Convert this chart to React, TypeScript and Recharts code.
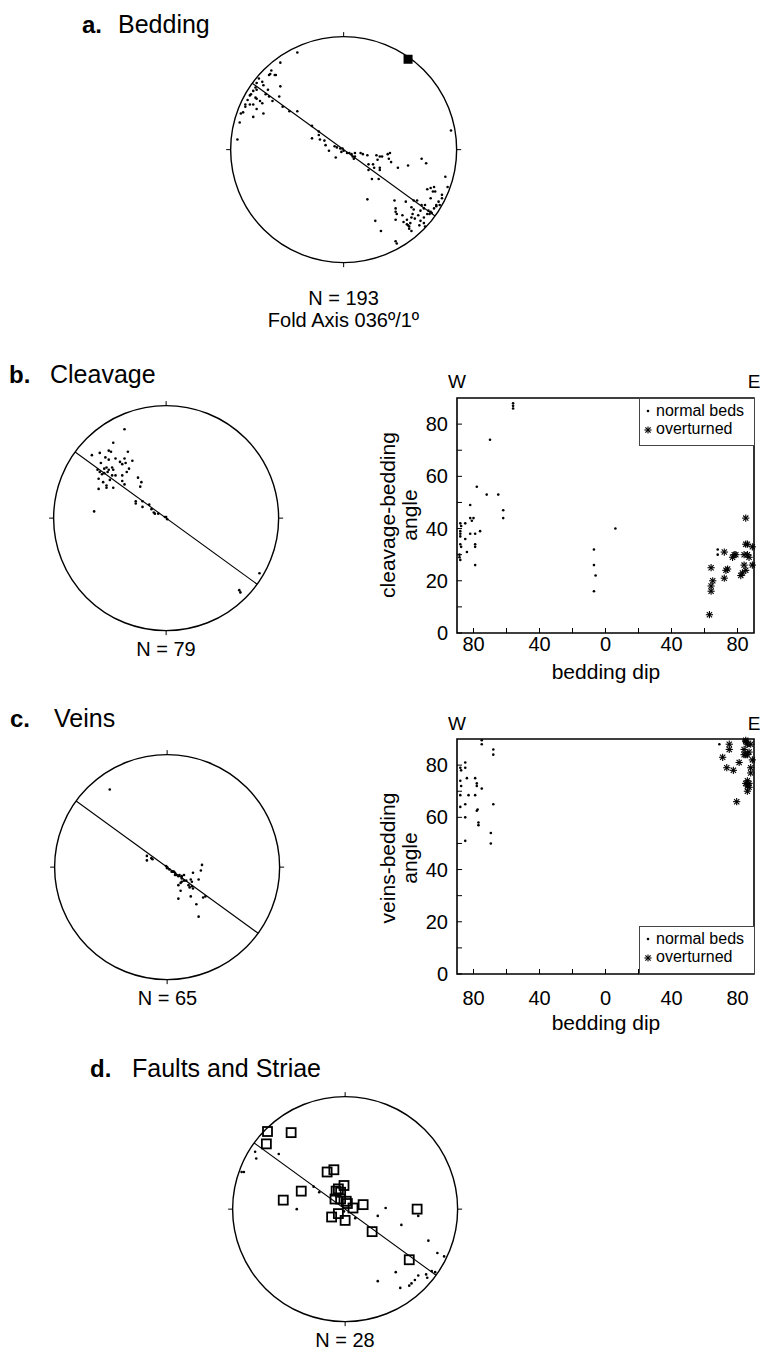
import React from 'react';
import {ScatterChart, Scatter, XAxis, YAxis, ReferenceDot, ReferenceLine, ReferenceArea} from 'recharts';

const FONT = '"Liberation Sans", Arial, Helvetica, sans-serif';

// stereonet points are [east, north] in % of the net radius
const beddingPoles = [
    [-41, 86], [-56, 77], [-64, 70], [-61, 66], [-66, 66], [-65, 67], [-60, 66], [-75, 63], [-72, 60], [-71, 57],
    [-77, 59], [-56, 56], [-78, 55], [-80, 52], [-82, 49], [-83, 48], [-77, 53], [-67, 53], [-69, 49], [-66, 47],
    [-63, 43], [-57, 47], [-85, 44], [-77, 45], [-74, 43], [-72, 41], [-80, 40], [-78, 46], [-87, 40], [-87, 38],
    [-83, 40], [-89, 33], [-91, 32], [-77, 36], [-71, 32], [-80, 29], [-92, 24], [-94, 9], [-54, 38], [-48, 34],
    [-41, 34], [-28, 21], [-22, 16], [-22, 13], [-28, 10], [-21, 9], [-17, 8], [-16, 4], [-13, -1], [-8, 3],
    [-6, 2], [-3, 1], [-1, 1], [0, -1], [-2, -2], [-7, -7], [3, -3], [5, -3], [7, -4], [10, -3],
    [8, -6], [10, -6], [9, -8], [15, -3], [17, -4], [21, -5], [22, -13], [26, -13], [27, -16], [29, -5],
    [30, -9], [32, -6], [34, -6], [39, -4], [41, -3], [40, -8], [42, -11], [32, -16], [32, -18], [22, -18],
    [25, -26], [31, -26], [48, -16], [57, -14], [69, -8], [73, -12], [95, 17], [90, -24], [74, -35], [77, -34],
    [80, -33], [79, -37], [92, -33], [87, -40], [81, -37], [77, -43], [84, -46], [82, -49], [87, -43], [80, -52],
    [82, -50], [85, -49], [62, -45], [65, -45], [69, -49], [72, -49], [60, -51], [62, -53], [68, -54], [71, -52],
    [75, -54], [77, -55], [76, -57], [78, -56], [45, -45], [55, -46], [46, -52], [46, -55], [47, -57], [52, -58],
    [61, -57], [66, -58], [71, -60], [74, -57], [60, -60], [63, -61], [56, -62], [53, -64], [46, -62], [68, -63],
    [71, -65], [72, -68], [67, -67], [59, -65], [58, -68], [57, -67], [60, -72], [58, -70], [21, -44], [28, -63],
    [33, -72], [46, -81], [47, -83], [56, -66],
];
const foldAxis = [[57, 80]];
const foldAxisTrend = 36;

const cleavagePoles = [
    [-37, 79], [-47, 67], [-66, 56], [-59, 58], [-51, 60], [-49, 59], [-34, 59], [-54, 54], [-51, 52], [-45, 53],
    [-41, 50], [-39, 48], [-37, 53], [-30, 51], [-58, 49], [-55, 44], [-53, 45], [-51, 43], [-48, 45], [-47, 43],
    [-52, 41], [-59, 41], [-61, 43], [-57, 39], [-55, 40], [-48, 38], [-45, 38], [-39, 38], [-35, 41], [-33, 44],
    [-36, 49], [-60, 35], [-56, 32], [-53, 29], [-50, 34], [-39, 33], [-37, 30], [-60, 26], [-53, 27], [-47, 27],
    [-25, 36], [-22, 32], [-23, 28], [-64, 6], [-27, 13], [-27, 15], [-21, 15], [-15, 12], [-21, 10], [-13, 8],
    [-11, 5], [-10, 4], [-7, 4], [-1, 1], [1, -1], [0, 1], [65, -64], [66, -66], [83, -49],
];

const veinPoles = [
    [-51, 69], [-18, 10], [-18, 6], [-14, 8], [-13, 7], [-1, 1], [0, 0], [0, -1], [2, -2], [4, -4],
    [5, -4], [7, -5], [8, -7], [10, -8], [11, -7], [13, -8], [13, -10], [12, -14], [10, -16], [13, -13],
    [15, -12], [17, -12], [19, -16], [21, -11], [22, -13], [23, -5], [28, -11], [30, -3], [31, 2], [20, -18],
    [22, -17], [23, -19], [12, -21], [21, -26], [10, -28], [26, -33], [28, -44], [34, -26], [32, -27], [15, -7],
    [6, -4], [7, -7],
];

const faultPoles = [
    [-69, 69], [-48, 68], [-70, 58], [-16, 33], [-10, 35], [-1, 21], [-6, 18], [-4, 15], [-8, 16], [-39, 16],
    [-55, 8], [-9, 9], [-4, 9], [1, 7], [2, 5], [7, 1], [16, 4], [64, 0], [-12, -7], [-6, -4],
    [0, -10], [24, -20], [57, -45],
];
const striae = [
    [-80, 51], [-79, 45], [-59, 49], [-92, 33], [-90, 33], [-43, 0], [-28, 20], [-23, 15], [9, -8], [29, -6],
    [36, 1], [50, -14], [65, -6], [74, -28], [82, -39], [88, -42], [45, -56], [29, -64], [49, -70], [57, -68],
    [59, -66], [62, -63], [65, -59], [72, -58], [73, -61], [77, -55], [80, -56], [-1, -2],
];

// bedding dip (W negative, E positive) vs angle
const cleavageNormal = [
    [-88, 42], [-87.5, 41], [-85, 42], [-88, 39], [-88, 38], [-88, 37], [-85, 36], [-88, 34], [-87.5, 33], [-88.5, 30],
    [-88.5, 29], [-88, 28], [-84, 31], [-82, 44], [-80, 44], [-82, 49], [-81, 43], [-82, 38], [-79, 38], [-79, 34],
    [-79, 33], [-79, 26], [-78, 56], [-76, 39], [-72, 53], [-70, 74], [-65, 53], [-62, 47], [-62, 44], [-56, 88],
    [-56, 87], [-56, 86], [-7, 32], [-7, 26], [-6, 22], [-7, 16], [6, 40], [68, 32], [68, 30],
];
const cleavageOverturned = [
    [64, 25], [65, 20], [64, 18], [64, 16], [63, 7], [72, 31], [73, 24], [74, 24.5], [72, 21], [77, 29],
    [78, 30], [82, 22], [83, 23], [84, 26], [85, 34], [86, 34], [86, 30], [87, 29], [89, 33], [89, 26],
    [85, 44], [79, 30], [84, 30], [85, 24],
];
const veinsNormal = [
    [-88, 79], [-87.5, 78], [-88, 74], [-87.5, 72], [-88, 68.5], [-88, 64], [-85, 81], [-85, 79], [-84, 75], [-85, 65],
    [-83, 68.5], [-79, 68.5], [-85, 60], [-85, 51], [-79, 75], [-78, 73], [-78, 72], [-77.5, 63], [-78, 62.5], [-77, 58],
    [-77, 57], [-75, 71], [-75, 89.5], [-75, 88], [-68, 86], [-68, 84], [-68, 65], [-69.5, 54], [-69.5, 50], [69, 88],
];
const veinsOverturned = [
    [75, 88], [75, 86], [71, 83], [73.5, 79], [77.5, 78], [81, 81], [79.5, 66], [85, 89.5], [85, 89], [86, 88],
    [84, 86], [85, 84], [86, 84], [87, 85], [88, 88], [89, 82], [88, 79], [88, 77], [86, 74], [87, 73],
    [86, 72], [87, 71.5], [86, 70], [85, 73], [84, 84],
];

const dipTicks = [-80, -60, -40, -20, 0, 20, 40, 60, 80];
const angleTicks = [0, 10, 20, 30, 40, 50, 60, 70, 80];

const pts = (a: number[][]) => a.map(([x, y]) => ({x, y}));

const dot = (p: any) => <circle cx={p.cx} cy={p.cy} r={1.3} fill="#000"/>;
const hollowSquare = (p: any) => (
    <rect x={p.cx - 4.5} y={p.cy - 4.5} width={9} height={9} fill="none" stroke="#000" strokeWidth={1.8}/>
);
const filledSquare = (p: any) => <rect x={p.cx - 4.5} y={p.cy - 4.5} width={9} height={9} fill="#000"/>;
const star = (p: any) => {
    const {cx, cy} = p;
    const s = 3.6, d = 2.6;
    return (
        <g stroke="#000" strokeWidth={1.1}>
            <line x1={cx - s} y1={cy} x2={cx + s} y2={cy}/>
            <line x1={cx} y1={cy - s} x2={cx} y2={cy + s}/>
            <line x1={cx - d} y1={cy - d} x2={cx + d} y2={cy + d}/>
            <line x1={cx - d} y1={cy + d} x2={cx + d} y2={cy - d}/>
        </g>
    );
};

// fold axis plane: strike is trend + 90
const strike = (foldAxisTrend + 90) * Math.PI / 180;
const plane = [
    {x: -100 * Math.sin(strike), y: -100 * Math.cos(strike)},
    {x: 100 * Math.sin(strike), y: 100 * Math.cos(strike)},
];

function Txt(props: {x: number, y: number, size: number, bold?: boolean, center?: boolean, children: any}) {
    const {x, y, size, bold, center, children} = props;
    return (
        <div style={{
            position: 'absolute', left: x, top: y - 0.8465 * size, fontSize: size, lineHeight: size + 'px',
            fontFamily: FONT, fontWeight: bold ? 700 : 400, whiteSpace: 'nowrap', color: '#000',
            transform: center ? 'translateX(-50%)' : undefined,
        }}>{children}</div>
    );
}

function stereonet(cx: number, cy: number, R: number, series: any[]) {
    const S = 2 * R * 1.05;
    return (
        <div style={{position: 'absolute', left: cx - S / 2, top: cy - S / 2}}>
            <ScatterChart width={S} height={S} margin={{top: 0, right: 0, bottom: 0, left: 0}}>
                <XAxis type="number" dataKey="x" domain={[-105, 105]} hide/>
                <YAxis type="number" dataKey="y" domain={[-105, 105]} hide/>
                <ReferenceDot x={0} y={0} r={R} fill="none" stroke="#000" strokeWidth={1.4}/>
                <ReferenceLine segment={[{x: 0, y: 100}, {x: 0, y: 104}]} stroke="#000"/>
                <ReferenceLine segment={[{x: 0, y: -100}, {x: 0, y: -104}]} stroke="#000"/>
                <ReferenceLine segment={[{x: 100, y: 0}, {x: 104, y: 0}]} stroke="#000"/>
                <ReferenceLine segment={[{x: -100, y: 0}, {x: -104, y: 0}]} stroke="#000"/>
                <ReferenceLine segment={plane} stroke="#000" strokeWidth={1.1}/>
                {series}
            </ScatterChart>
        </div>
    );
}

function Legend2(props: {top: number}) {
    return (
        <div style={{
            position: 'absolute', left: 639, top: props.top, width: 114, height: 46, border: '1px solid #444',
            background: '#fff', fontFamily: FONT, fontSize: 16,
        }}>
            <svg width={12} height={40} style={{position: 'absolute', left: 2, top: 2}}>
                <circle cx={6} cy={10} r={1.3} fill="#000"/>
                {star({cx: 6, cy: 29})}
            </svg>
            <div style={{position: 'absolute', left: 16, top: 3, lineHeight: '18px'}}>normal beds</div>
            <div style={{position: 'absolute', left: 16, top: 21, lineHeight: '18px'}}>overturned</div>
        </div>
    );
}

function dipPlot(top: number, normal: number[][], over: number[][], tickGap: number) {
    return (
        <div style={{position: 'absolute', left: 370, top}}>
            <ScatterChart width={390} height={330} margin={{top: 38, right: 6, bottom: 17, left: 0}}>
                <XAxis type="number" dataKey="x" domain={[-90, 90]} ticks={dipTicks} interval={0}
                       tickFormatter={(v) => v % 40 === 0 ? String(Math.abs(v)) : ''}
                       tickSize={-5} tickMargin={tickGap} height={40} axisLine={false}
                       tickLine={{stroke: '#000'}} tick={{fill: '#000', fontSize: 20, fontFamily: FONT}}/>
                <YAxis type="number" dataKey="y" domain={[0, 90]} ticks={angleTicks} interval={0}
                       tickFormatter={(v) => v % 20 === 0 ? String(v) : ''}
                       tickSize={-5} tickMargin={14} width={87} axisLine={false}
                       tickLine={{stroke: '#000'}} tick={{fill: '#000', fontSize: 20, fontFamily: FONT}}/>
                <ReferenceArea x1={-90} x2={90} y1={0} y2={90} fill="none" stroke="#000" strokeWidth={1.6}/>
                <Scatter data={pts(normal)} shape={dot} isAnimationActive={false}/>
                <Scatter data={pts(over)} shape={star} isAnimationActive={false}/>
            </ScatterChart>
        </div>
    );
}

function YTitle(props: {cx: number, cy: number, lines: string[]}) {
    return (
        <div style={{
            position: 'absolute', left: props.cx - 100, top: props.cy - 22, width: 200, height: 44,
            transform: 'rotate(-90deg)', textAlign: 'center', fontFamily: FONT, fontSize: 21, lineHeight: '22px',
        }}>
            {props.lines.map((l) => <div key={l}>{l}</div>)}
        </div>
    );
}

export default function App() {
    return (
        <div style={{position: 'absolute', left: 0, top: 0, width: 760, height: 1354, background: '#fff', overflow: 'hidden'}}>
            <Txt x={82} y={33} size={24} bold>a.</Txt>
            <Txt x={118} y={33} size={25}>Bedding</Txt>
            {stereonet(343.5, 150, 113, [
                <Scatter key="p" data={pts(beddingPoles)} shape={dot} isAnimationActive={false}/>,
                <Scatter key="f" data={pts(foldAxis)} shape={filledSquare} isAnimationActive={false}/>,
            ])}
            <Txt x={343.5} y={305} size={20} center>N = 193</Txt>
            <Txt x={343.5} y={327} size={20} center>Fold Axis 036º/1º</Txt>

            <Txt x={9} y={383} size={24} bold>b.</Txt>
            <Txt x={50} y={383} size={25}>Cleavage</Txt>
            {stereonet(165.7, 518, 112.5, [
                <Scatter key="p" data={pts(cleavagePoles)} shape={dot} isAnimationActive={false}/>,
            ])}
            <Txt x={166} y={656} size={20} center>N = 79</Txt>

            <Txt x={457} y={388} size={19} center>W</Txt>
            <Txt x={754} y={388} size={19} center>E</Txt>
            {dipPlot(360, cleavageNormal, cleavageOverturned, 8.5)}
            <Legend2 top={398}/>
            <YTitle cx={399} cy={515} lines={['cleavage-bedding', 'angle']}/>
            <Txt x={606} y={679} size={21} center>bedding dip</Txt>

            <Txt x={10} y={727} size={24} bold>c.</Txt>
            <Txt x={54} y={727} size={25}>Veins</Txt>
            {stereonet(167.5, 867.3, 112.5, [
                <Scatter key="p" data={pts(veinPoles)} shape={dot} isAnimationActive={false}/>,
            ])}
            <Txt x={167.5} y={1005} size={20} center>N = 65</Txt>

            <Txt x={457} y={730} size={19} center>W</Txt>
            <Txt x={754} y={730} size={19} center>E</Txt>
            {dipPlot(701, veinsNormal, veinsOverturned, 21.5)}
            <Legend2 top={926}/>
            <YTitle cx={399} cy={858} lines={['veins-bedding', 'angle']}/>
            <Txt x={606} y={1030} size={21} center>bedding dip</Txt>

            <Txt x={90} y={1077} size={24} bold>d.</Txt>
            <Txt x={132} y={1077} size={25}>Faults and Striae</Txt>
            {stereonet(345, 1208.7, 112.5, [
                <Scatter key="s" data={pts(striae)} shape={dot} isAnimationActive={false}/>,
                <Scatter key="f" data={pts(faultPoles)} shape={hollowSquare} isAnimationActive={false}/>,
            ])}
            <Txt x={345} y={1347} size={20} center>N = 28</Txt>
        </div>
    );
}
